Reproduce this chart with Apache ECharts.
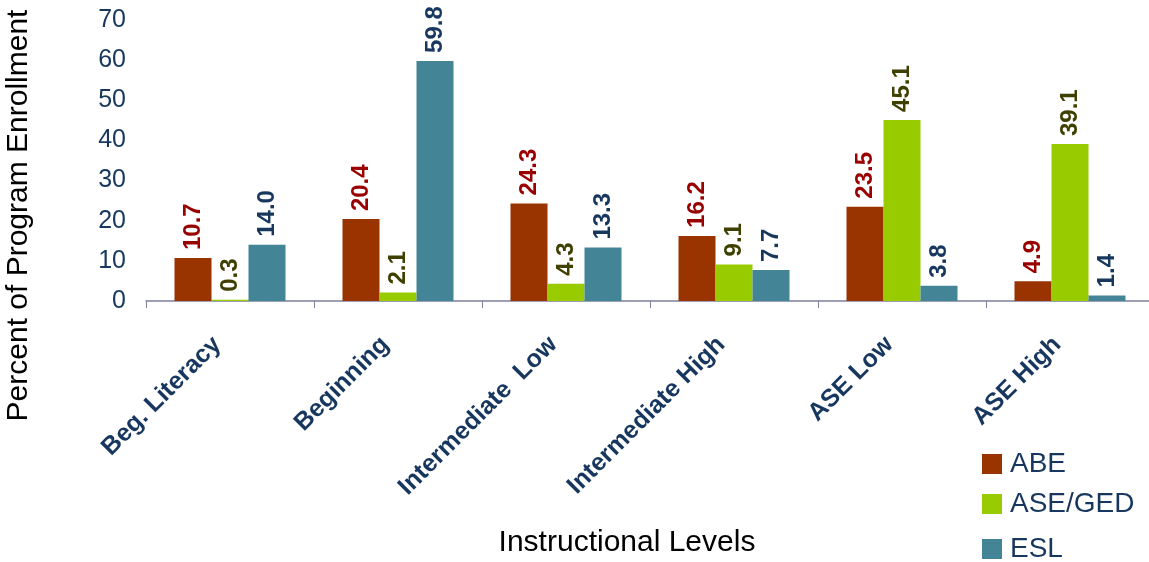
<!DOCTYPE html>
<html>
<head>
<meta charset="utf-8">
<script src="https://cdn.jsdelivr.net/npm/echarts@6/dist/echarts.min.js"></script>
<style>
  html, body { margin: 0; padding: 0; background: #fff; }
  #chart { width: 1149px; height: 562px; }
</style>
</head>
<body>
<div id="chart"></div>
<script>
const categories = ["Beg. Literacy", "Beginning", "Intermediate  Low", "Intermediate High", "ASE Low", "ASE High"];
const abe = [10.7, 20.4, 24.3, 16.2, 23.5, 4.9];
const aseGed = [0.3, 2.1, 4.3, 9.1, 45.1, 39.1];
const esl = [14.0, 59.8, 13.3, 7.7, 3.8, 1.4];
const seriesNames = ["ABE", "ASE/GED", "ESL"];
const yTicks = [0, 10, 20, 30, 40, 50, 60, 70];

const navy = "#17375E";
const font = "'Liberation Sans', Arial, sans-serif";

function makeSeries(name, data, color, labelColor) {
  return {
    name: name,
    type: "bar",
    data: data,
    barWidth: 37,
    barGap: "0%",
    itemStyle: { color: color },
    label: {
      show: true,
      position: "top",
      rotate: 90,
      align: "left",
      verticalAlign: "middle",
      distance: 8,
      color: labelColor,
      fontFamily: font,
      fontWeight: "bold",
      fontSize: 24,
      formatter: (p) => p.value.toFixed(1),
    },
  };
}

// one legend box per entry so the rows sit where the reference has them
const legendTops = [450, 490, 535];
const legends = seriesNames.map((n, i) => ({
  data: [n],
  left: 982,
  top: legendTops[i],
  padding: 0,
  itemWidth: 20,
  itemHeight: 20,
  icon: "rect",
  textStyle: { color: navy, fontFamily: font, fontSize: 28, padding: [0, 0, 0, 3] },
}));

const chart = echarts.init(document.getElementById("chart"));
chart.setOption({
  animation: false,
  grid: {
    left: 146,
    top: 20,
    width: 1008,
    height: 281,
    containLabel: false,
    outerBoundsMode: "none",
  },
  legend: legends,
  xAxis: {
    type: "category",
    data: categories,
    name: "Instructional Levels",
    nameLocation: "middle",
    nameGap: 227,
    nameTextStyle: { color: "#000", fontFamily: font, fontSize: 30, padding: [0, 46, 0, 0] },
    axisLine: { lineStyle: { color: "#7F7FA0", width: 1.5 } },
    axisTick: { show: true, length: 7, lineStyle: { color: "#7F7FA0" } },
    axisLabel: {
      rotate: 45,
      interval: 0,
      margin: 27,
      padding: [0, 18, 0, 0],
      color: navy,
      fontFamily: font,
      fontWeight: "bold",
      fontSize: 25,
    },
  },
  yAxis: {
    type: "value",
    min: 0,
    max: 70,
    interval: 10,
    name: "Percent of Program Enrollment",
    nameLocation: "middle",
    nameGap: 112,
    nameTextStyle: { color: "#000", fontFamily: font, fontSize: 30, padding: [0, 110, 0, 0] },
    axisLine: { show: false },
    axisTick: { show: false },
    splitLine: { show: false },
    axisLabel: {
      margin: 20,
      color: navy,
      fontFamily: font,
      fontSize: 25,
      formatter: (v) => (yTicks.includes(v) ? String(v) : ""),
    },
  },
  series: [
    makeSeries("ABE", abe, "#993300", "#990000"),
    makeSeries("ASE/GED", aseGed, "#99CC00", "#3F3F00"),
    makeSeries("ESL", esl, "#438596", navy),
  ],
});
</script>
</body>
</html>
